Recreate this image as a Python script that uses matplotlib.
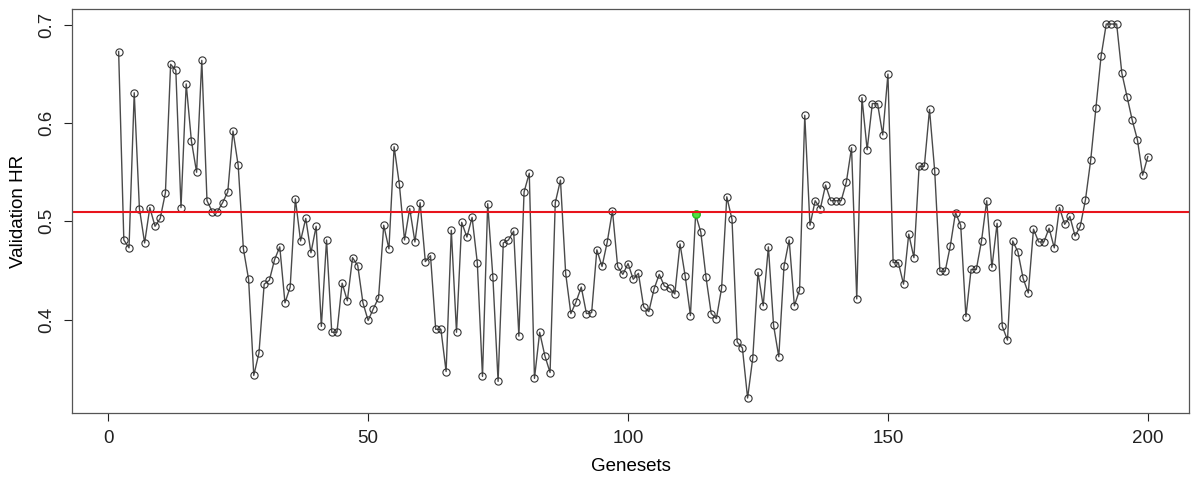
import matplotlib
matplotlib.use('Agg')
import matplotlib.pyplot as plt
import numpy as np

plt.rcParams['font.family'] = ['Liberation Sans', 'DejaVu Sans']

# geneset index 2..200 (geneset 1 has no value)
genesets = np.arange(2, 201)

# validation HR, in order of geneset
hr = [0.673, 0.481, 0.473, 0.631, 0.513, 0.478, 0.514, 0.495, 0.503, 0.529,
      0.660, 0.654, 0.514, 0.640, 0.582, 0.550, 0.664, 0.521, 0.510, 0.510,
      0.519, 0.530, 0.592, 0.557,
      0.472, 0.441, 0.343, 0.366, 0.436, 0.440, 0.461, 0.474, 0.417, 0.433,
      0.523, 0.480, 0.503, 0.468, 0.495, 0.393, 0.481, 0.387, 0.387, 0.437,
      0.419, 0.463, 0.455, 0.417, 0.399, 0.411,
      0.422, 0.496, 0.472, 0.576, 0.538, 0.481, 0.513, 0.479, 0.519, 0.459,
      0.465, 0.390, 0.390, 0.347, 0.491, 0.387, 0.499, 0.484, 0.504, 0.458,
      0.342, 0.518, 0.443, 0.337, 0.478, 0.481,
      0.490, 0.383, 0.530, 0.549, 0.340, 0.387, 0.363, 0.346, 0.519, 0.542,
      0.447, 0.406, 0.418, 0.433, 0.406, 0.407, 0.471, 0.454, 0.479, 0.511,
      0.454, 0.446, 0.457, 0.441, 0.447, 0.413,
      0.408, 0.431, 0.446, 0.434, 0.432, 0.426, 0.477, 0.444, 0.404, 0.507,
      0.489, 0.443, 0.406, 0.401, 0.432, 0.525, 0.502, 0.377, 0.371, 0.320,
      0.361, 0.448, 0.414, 0.474, 0.394, 0.362,
      0.454, 0.481, 0.414, 0.430, 0.608, 0.496, 0.521, 0.513, 0.537, 0.521,
      0.521, 0.521, 0.540, 0.575, 0.421, 0.626, 0.573, 0.620, 0.620, 0.588,
      0.650, 0.458, 0.458, 0.436, 0.487, 0.463,
      0.556, 0.556, 0.614, 0.551, 0.449, 0.449, 0.475, 0.509, 0.496, 0.403,
      0.451, 0.451, 0.480, 0.521, 0.453, 0.498, 0.393, 0.379, 0.480, 0.469,
      0.442, 0.427, 0.492, 0.479, 0.479,
      0.493, 0.473, 0.514, 0.497, 0.505, 0.485, 0.495, 0.522, 0.562, 0.615,
      0.668, 0.701, 0.701, 0.701, 0.651, 0.627, 0.603, 0.583, 0.547, 0.566]

best_geneset = 113   # highlighted in green
cutoff = 0.51        # red reference line

fig = plt.figure(figsize=(11.91, 4.78), dpi=100)
ax = fig.add_axes([0.0605, 0.136, 0.938, 0.845])

ax.plot(genesets, hr, color='#4a4a4a', lw=1.0, marker='o', markersize=5.2,
        markerfacecolor='none', markeredgecolor='#333333', markeredgewidth=0.8)
ax.plot(best_geneset, hr[best_geneset - 2], 'o', markersize=5.2,
        markerfacecolor='#55dd44', markeredgecolor='#22cc22')
ax.axhline(cutoff, color='#e8141c', lw=1.5)

# R style 4% padding, x range counted from geneset 1
x0, x1 = 1, genesets.max()
ax.set_xlim(x0 - 0.04 * (x1 - x0), x1 + 0.04 * (x1 - x0))
yr = max(hr) - min(hr)
ax.set_ylim(min(hr) - 0.04 * yr, max(hr) + 0.04 * yr)

ax.set_xticks([0, 50, 100, 150, 200])
ax.set_yticks([0.4, 0.5, 0.6, 0.7])
ax.set_yticklabels(['0.4', '0.5', '0.6', '0.7'], rotation=90, va='center')
ax.tick_params(direction='out', length=6, width=0.8, labelsize=13.5, colors='#222222', pad=6)

for s in ax.spines.values():
    s.set_color('#555555')
    s.set_linewidth(0.9)

ax.set_xlabel('Genesets', fontsize=13.5, labelpad=8)
ax.set_ylabel('Validation HR', fontsize=13.5, labelpad=8)

fig.savefig('out.png', dpi=100)
